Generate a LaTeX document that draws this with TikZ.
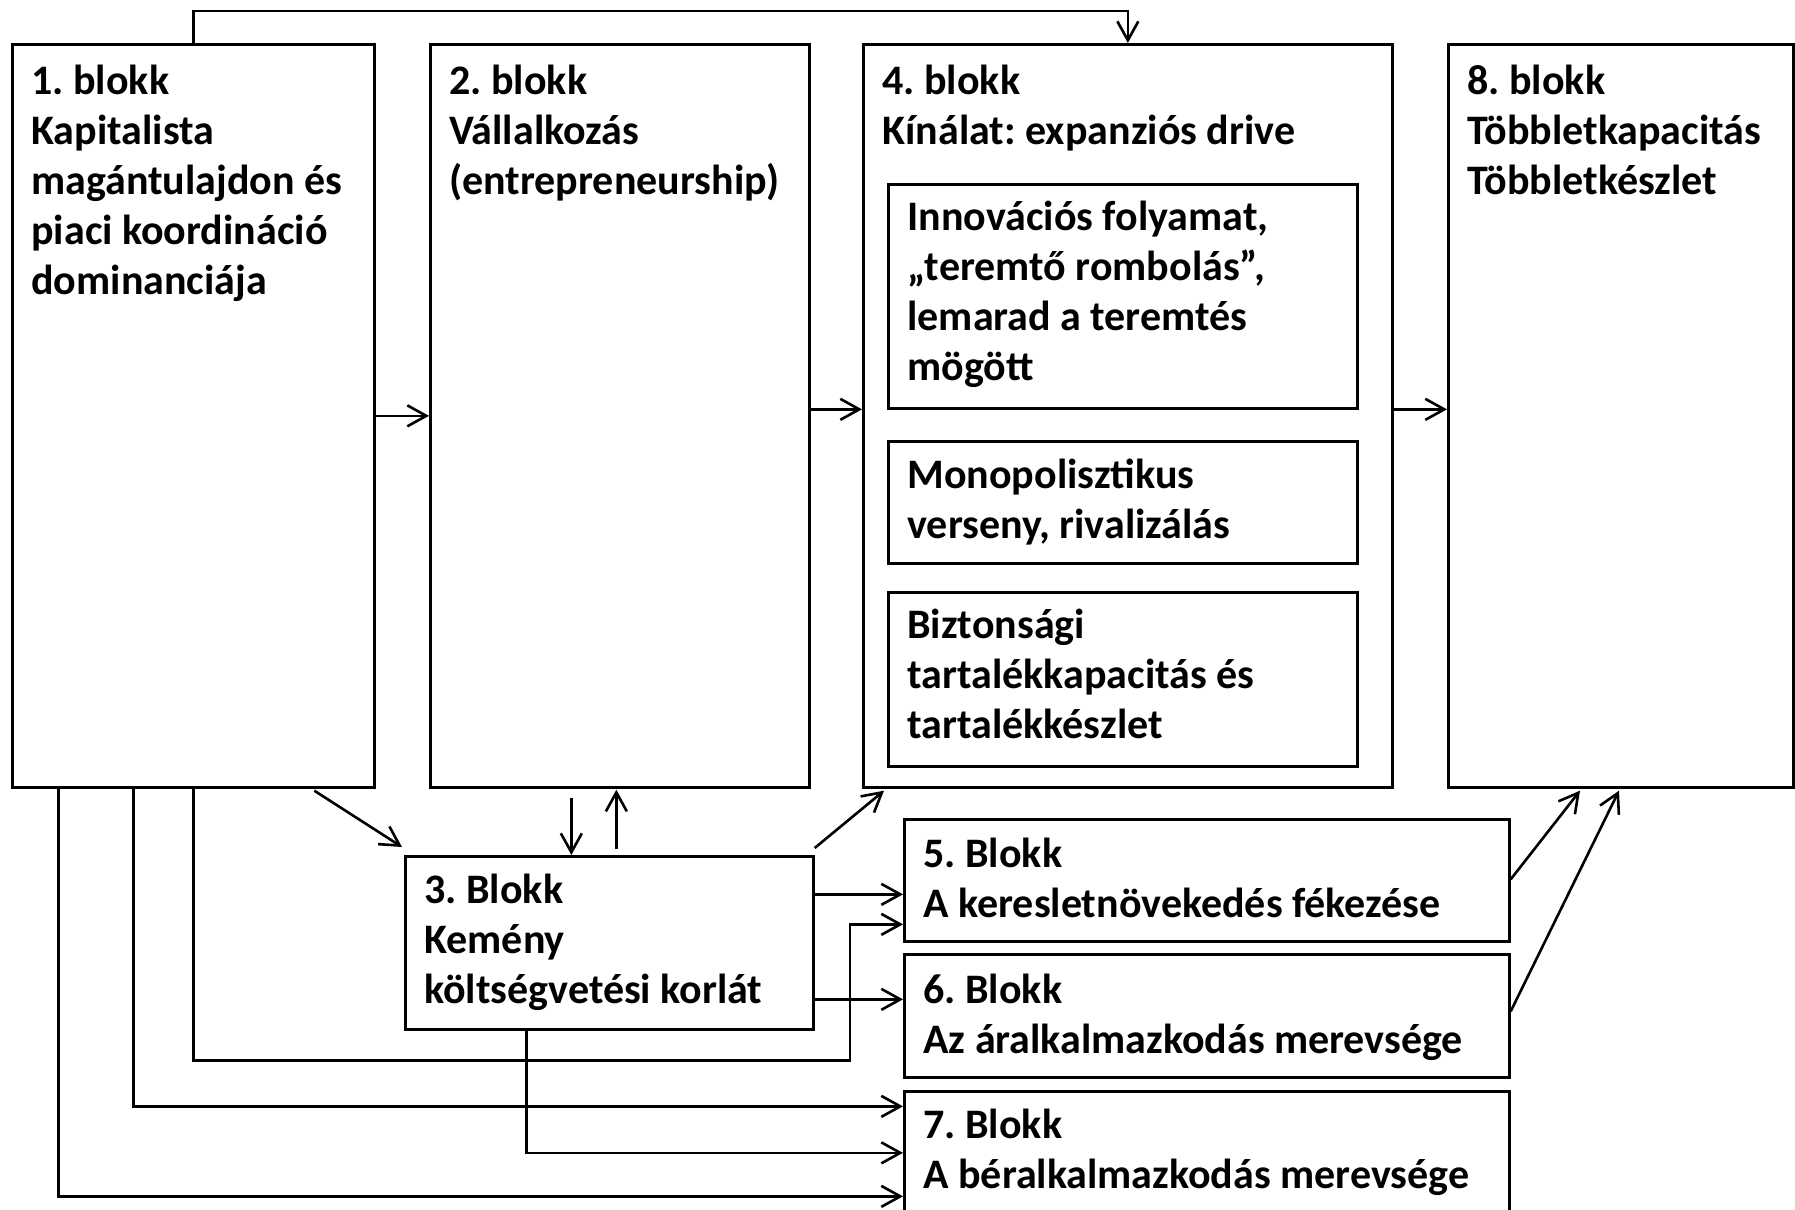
\documentclass[tikz,border=0pt]{standalone}
\usepackage{fontspec}
\setmainfont{Carlito}
\usetikzlibrary{arrows.meta,positioning,calc}
\frenchspacing
\tikzset{
  mybox/.style = {rectangle, draw, line width=1.35pt, anchor=north west, inner sep=0pt},
  mytext/.style = {anchor=north west, inner sep=0pt, align=left, font=\fontsize{21}{25}\selectfont\bfseries, execute at begin node={\rule{0pt}{18pt}}},
  myarrow/.style = {-{Straight Barb[length=9.5pt,width=10.5pt]}, line width=1.3pt},
}

\begin{document}
\begin{tikzpicture}[x=0.5pt,y=-0.5pt]
\useasboundingbox (0,0) rectangle (1795,1210);
% upper row
\node[mybox, minimum width=181pt, minimum height=371.5pt] (b1) at (11,43) {};
\node[mybox, minimum width=189.5pt, minimum height=371.5pt] (b2) at (429,43) {};
\node[mybox, minimum width=264.5pt, minimum height=371.5pt] (b4) at (862,43) {};
\node[mybox, minimum width=234.5pt, minimum height=112pt] (i1) at (887,183) {};
\node[mybox, minimum width=234.5pt, minimum height=61pt] (i2) at (887,440) {};
\node[mybox, minimum width=234.5pt, minimum height=87pt] (i3) at (887,591) {};
\node[mybox, minimum width=172.5pt, minimum height=371.5pt] (b8) at (1447,43) {};
% lower row
\node[mybox, minimum width=204pt, minimum height=86.5pt] (b3) at (404,855) {};
\node[mybox, minimum width=302.5pt, minimum height=61pt] (b5) at (903,818) {};
\node[mybox, minimum width=302.5pt, minimum height=61.5pt] (b6) at (903,953) {};
\node[mybox, minimum width=302.5pt, minimum height=61.5pt] (b7) at (903,1090) {};

\node[mytext] (t1) at ($(b1.north west)+(20,22)$) {1. blokk\\Kapitalista\\magántulajdon és\\piaci koordináció\\dominanciája};
\node[mytext] (t2) at ($(b2.north west)+(20,22)$) {2. blokk\\Vállalkozás\\(entrepreneurship)};
\node[mytext] (t4) at ($(b4.north west)+(20,22)$) {4. blokk\\Kínálat: expanziós drive};
\node[mytext] (ti1) at ($(i1.north west)+(20,18)$) {Innovációs folyamat,\\„teremtő rombolás”,\\lemarad a teremtés\\mögött};
\node[mytext] (ti2) at ($(i2.north west)+(20,19)$) {Monopolisztikus\\verseny, rivalizálás};
\node[mytext] (ti3) at ($(i3.north west)+(20,18)$) {Biztonsági\\tartalékkapacitás és\\tartalékkészlet};
\node[mytext] (t8) at ($(b8.north west)+(20,22)$) {8. blokk\\Többletkapacitás\\Többletkészlet};
\node[mytext] (t3) at ($(b3.north west)+(20,19)$) {3. Blokk\\Kemény\\költségvetési korlát};
\node[mytext] (t5) at ($(b5.north west)+(20,20)$) {5. Blokk\\A keresletnövekedés fékezése};
\node[mytext] (t6) at ($(b6.north west)+(20,21)$) {6. Blokk\\Az áralkalmazkodás merevsége};
\node[mytext] (t7) at ($(b7.north west)+(20,19)$) {7. Blokk\\A béralkalmazkodás merevsége};

% connectors
\draw[myarrow] (b1.north) -- ++(0,-32) -| (b4.north);
\draw[myarrow] (b1.east) -- (b2.west);
\draw[myarrow] ([yshift=3.25pt]b2.east) -- ([yshift=3.25pt]b4.west);
\draw[myarrow] ([yshift=3.25pt]b4.east) -- ([yshift=3.25pt]b8.west);
\draw[myarrow] ($(b1.south)+(121,2)$) -- ($(b3.north west)+(-2,-8)$);
\draw[myarrow] ($(b2.south)+(-48.5,9)$) -- ($(b3.north)+(-38,0)$);
\draw[myarrow] ($(b3.north)+(7,-6)$) -- ($(b2.south)+(-3.5,1)$);
\draw[myarrow] ($(b3.north east)+(0,-7)$) -- ($(b4.south west)+(22,2)$);
\draw[myarrow] ($(b3.east)+(0,-48.5)$) -- ($(b5.west)+(0,14)$);
\draw[myarrow] ($(b3.east)+(0,56.5)$) -- ($(b6.west)+(0,-16.5)$);
\draw[myarrow] (b1.south) |- ($(b5.west)+(-53,180)$) |- ($(b5.west)+(0,44)$);
\draw[myarrow] ($(b1.south)+(-60,0)$) |- ($(b7.west)+(0,-46.5)$);
\draw[myarrow] ($(b3.south)+(-83,0)$) |- (b7.west);
\draw[myarrow] ($(b1.south)+(-135,0)$) |- ($(b7.west)+(0,43.5)$);
\draw[myarrow] ($(b5.east)+(0,-1)$) -- ($(b8.south west)+(133,2)$);
\draw[myarrow] ($(b6.east)+(0,-4.5)$) -- ($(b8.south west)+(172,2)$);
\end{tikzpicture}
\end{document}
